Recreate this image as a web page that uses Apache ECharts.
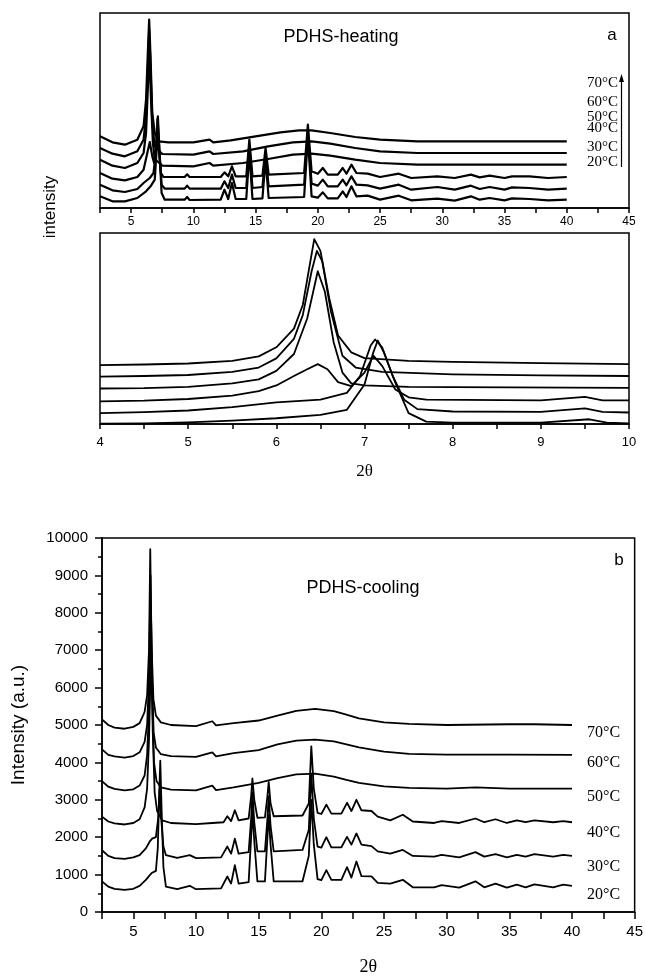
<!DOCTYPE html>
<html>
<head>
<meta charset="utf-8">
<script src="https://cdn.jsdelivr.net/npm/echarts@6/dist/echarts.min.js"></script>
<style>
html,body{margin:0;padding:0;background:#fff;}
#chart{width:646px;height:977px;}
</style>
</head>
<body>
<div id="chart"></div>
<script>
// ---------- labels ----------
var tempLabels = ['20°C', '30°C', '40°C', '50°C', '60°C', '70°C'];
var xTicksWide = [5, 10, 15, 20, 25, 30, 35, 40, 45];
var xTicksZoom = [4, 5, 6, 7, 8, 9, 10];
var yTicksCool = [0, 1000, 2000, 3000, 4000, 5000, 6000, 7000, 8000, 9000, 10000];

// ---------- panel a (heating, full range, arbitrary units) ----------
var heat70 = [[2.5,215],[3.5,197],[4.5,190],[5.5,205],[6.0,245],[6.2,325],[6.35,475],[6.45,565],[6.55,465],[6.7,285],[6.9,225],[7.2,200],[8,197],[10,197],[11.3,205],[11.6,197],[13,203],[15,215],[17,227],[18.5,233],[19.5,233],[21,225],[23,213],[25,205],[28,200],[40,200]];
var heat60 = [[2.5,180],[3.5,163],[4.5,155],[5.5,170],[6.0,205],[6.2,275],[6.35,425],[6.45,535],[6.55,435],[6.7,255],[6.9,185],[7.5,162],[10,160],[11.3,170],[11.6,162],[14,170],[16,185],[18,197],[19.5,200],[21,193],[23,180],[25,170],[28,165],[40,165]];
var heat50 = [[2.5,145],[3.5,127],[4.5,120],[5.5,135],[6.0,165],[6.2,225],[6.35,365],[6.47,475],[6.6,325],[6.75,195],[6.9,147],[7.5,127],[10,125],[11.3,135],[11.6,127],[14,135],[16,147],[18,160],[19.5,163],[21,157],[23,145],[25,135],[28,130],[40,130]];
var heat40 = [[2.5,105],[3.5,88],[4.5,83],[5.5,93],[6.0,115],[6.3,165],[6.5,198],[6.7,155],[6.85,135],[7.0,185],[7.1,225],[7.22,175],[7.4,105],[7.6,93],[9.3,93],[9.5,101],[9.7,93],[12.2,93],[12.5,107],[12.8,95],[13.1,125],[13.4,95],[14.25,95],[14.5,205],[14.75,95],[15.55,97],[15.8,180],[16.05,100],[18.9,105],[19.2,250],[19.5,110],[20.0,103],[20.4,120],[20.8,100],[21.6,100],[22.0,120],[22.3,103],[22.7,130],[23.1,105],[24.0,103],[25.0,93],[26.5,103],[27.5,90],[29.6,95],[31,90],[32.3,100],[33,92],[33.8,97],[35,90],[35.6,95],[37,95],[38.5,90],[40,93]];
var heat30 = [[2.5,70],[3.5,53],[4.5,48],[5.5,57],[6.0,75],[6.5,90],[6.8,105],[7.0,175],[7.12,268],[7.25,185],[7.45,70],[7.7,58],[9.3,58],[9.5,67],[9.7,58],[12.2,58],[12.5,80],[12.8,60],[13.1,100],[13.4,60],[14.25,60],[14.5,185],[14.75,60],[15.55,63],[15.8,160],[16.05,65],[18.9,70],[19.2,230],[19.5,73],[20.0,67],[20.4,85],[20.8,65],[21.6,65],[22.0,85],[22.3,68],[22.7,95],[23.1,70],[24.0,68],[25.0,58],[26.5,70],[27.5,55],[29.6,63],[31,55],[32.3,67],[33,57],[33.8,63],[35,55],[35.6,62],[37,60],[38.5,55],[40,58]];
var heat20 = [[2.5,35],[3.5,20],[4.5,20],[5.5,30],[6.2,50],[6.6,67],[6.9,85],[7.05,175],[7.15,275],[7.3,155],[7.45,45],[7.7,25],[9.3,25],[9.5,33],[9.7,24],[12.2,25],[12.5,55],[12.8,27],[13.1,75],[13.4,27],[14.25,27],[14.5,165],[14.75,27],[15.55,29],[15.8,145],[16.05,30],[18.9,33],[19.2,215],[19.5,35],[20.0,31],[20.4,47],[20.8,29],[21.6,29],[22.0,50],[22.3,33],[22.7,65],[23.1,35],[24.0,37],[25.0,25],[26.5,37],[27.5,23],[29.6,28],[31,22],[32.3,35],[33,25],[33.8,30],[35,23],[35.6,29],[37,27],[38.5,23],[40,25]];

// ---------- panel a (heating, 4-10 deg detail, arbitrary units) ----------
var zoom70 = [[4,174],[4.5,176],[5,179],[5.5,187],[5.8,200],[6.0,227],[6.2,282],[6.3,352],[6.38,472],[6.43,547],[6.5,512],[6.6,372],[6.7,262],[6.85,212],[7.0,195],[7.5,187],[8,184],[9,180],[10,177]];
var zoom60 = [[4,140],[4.5,142],[5,145],[5.5,154],[5.8,167],[6.0,194],[6.2,252],[6.3,322],[6.4,452],[6.46,512],[6.52,482],[6.62,332],[6.75,202],[6.9,167],[7.2,154],[8,147],[9,144],[10,142]];
var zoom50 = [[4,105],[4.5,106],[5,110],[5.5,120],[5.8,132],[6.0,157],[6.2,207],[6.35,312],[6.47,452],[6.55,392],[6.65,242],[6.75,152],[6.85,120],[7.0,114],[7.5,110],[8,109],[10,107]];
var zoom40 = [[4,67],[4.5,69],[5,74],[5.5,84],[5.8,97],[6.0,114],[6.2,142],[6.35,162],[6.47,177],[6.58,162],[6.7,124],[6.85,112],[7.0,152],[7.1,202],[7.2,172],[7.35,102],[7.5,79],[7.7,72],[9,70],[9.5,80],[9.7,70],[10,70]];
var zoom30 = [[4,32],[4.5,35],[5,40],[5.5,50],[6.0,64],[6.5,72],[6.8,92],[6.95,142],[7.07,232],[7.12,250],[7.2,227],[7.32,142],[7.45,72],[7.6,44],[8,37],[9,36],[9.5,46],[9.7,36],[10,34]];
var zoom20 = [[4,1],[4.5,2],[5,5],[5.5,10],[6.0,17],[6.5,27],[6.8,42],[7.0,117],[7.1,212],[7.15,247],[7.22,212],[7.35,122],[7.5,32],[7.7,7],[8,4],[9,4],[9.55,14],[9.75,4],[10,2]];

// ---------- panel b (cooling, intensity a.u.) ----------
var cool70 = [[2.5,5150],[3.0,5000],[3.5,4930],[4.3,4900],[5.0,4950],[5.5,5050],[5.9,5350],[6.1,5800],[6.25,7000],[6.35,9700],[6.45,7200],[6.6,5700],[6.8,5250],[7.2,5070],[8,5000],[10,4970],[11.3,5100],[11.6,4990],[13.0,5050],[15,5120],[16.5,5250],[18,5380],[19.5,5430],[21,5370],[22,5280],[23,5180],[25,5070],[27,5030],[30,5000],[35,5020],[37,5020],[40,5000]];
var cool60 = [[2.5,4350],[3.0,4200],[3.5,4160],[4.3,4130],[5.0,4170],[5.5,4270],[5.9,4550],[6.1,5000],[6.25,6200],[6.37,9000],[6.47,6500],[6.62,4800],[6.8,4400],[7.2,4220],[8,4170],[10,4150],[11.3,4270],[11.6,4160],[13.0,4250],[15,4330],[16.5,4480],[18,4580],[19.5,4610],[21,4560],[22,4480],[23,4400],[25,4290],[27,4230],[30,4210],[35,4210],[40,4200]];
var cool50 = [[2.5,3500],[3.0,3350],[3.5,3290],[4.3,3250],[5.0,3280],[5.5,3380],[5.9,3650],[6.1,4200],[6.25,5400],[6.4,8200],[6.52,5600],[6.65,4000],[6.85,3500],[7.2,3330],[8,3270],[10,3250],[11.3,3380],[11.6,3260],[13.0,3330],[15,3450],[16.5,3580],[18,3680],[19.5,3700],[21,3620],[22,3530],[23,3450],[25,3360],[27,3320],[30,3300],[32.3,3330],[35,3300],[40,3300]];
var cool40 = [[2.5,2550],[3.0,2420],[3.5,2370],[4.3,2340],[5.0,2380],[5.5,2480],[5.9,2800],[6.1,3300],[6.25,4600],[6.42,7000],[6.55,4800],[6.7,3200],[6.9,2700],[7.3,2450],[8,2380],[10,2350],[11.3,2380],[12.2,2400],[12.5,2560],[12.8,2430],[13.1,2720],[13.4,2450],[14.2,2500],[14.4,3100],[14.5,3570],[14.65,3000],[14.9,2520],[15.5,2530],[15.7,3100],[15.8,3480],[15.95,2900],[16.2,2560],[18.5,2580],[19.0,2900],[19.2,4430],[19.4,3300],[19.7,2650],[20.0,2620],[20.4,2870],[20.8,2630],[21.6,2630],[22.05,2920],[22.4,2700],[22.8,3000],[23.2,2720],[24.0,2700],[24.5,2550],[25.5,2450],[26.5,2600],[27.3,2420],[29,2380],[29.6,2430],[31,2380],[32.3,2500],[33,2400],[33.9,2480],[34.8,2380],[35.6,2450],[36.3,2400],[37,2450],[38.5,2400],[39.3,2430],[40,2400]];
var cool30 = [[2.5,1650],[3.0,1500],[3.5,1440],[4.3,1420],[5.0,1460],[5.5,1520],[6.0,1700],[6.3,1880],[6.5,1960],[6.8,2000],[6.98,2500],[7.1,3300],[7.22,2500],[7.4,1750],[7.6,1520],[8.5,1450],[9.5,1520],[10,1440],[12,1460],[12.5,1750],[12.8,1560],[13.1,1960],[13.4,1560],[14.2,1600],[14.4,2500],[14.5,3200],[14.65,2400],[14.9,1620],[15.5,1620],[15.7,2500],[15.8,3100],[15.95,2300],[16.2,1620],[18.5,1660],[19.0,2200],[19.2,3700],[19.4,2500],[19.7,1750],[20.0,1720],[20.4,2000],[20.8,1730],[21.6,1730],[22.05,2010],[22.4,1800],[22.8,2100],[23.2,1800],[24.0,1760],[24.5,1620],[25.5,1560],[26.5,1660],[27.3,1500],[29,1480],[29.6,1530],[31,1460],[32.3,1600],[33,1480],[33.9,1550],[34.8,1460],[35.6,1530],[36.3,1480],[37,1550],[38.5,1480],[39.3,1530],[40,1500]];
var cool20 = [[2.5,820],[3.0,680],[3.5,620],[4.3,590],[5.0,620],[5.5,700],[6.0,860],[6.3,980],[6.5,1050],[6.8,1100],[6.95,1700],[7.08,3300],[7.15,4050],[7.25,2800],[7.4,1200],[7.6,680],[8.5,610],[9.5,700],[10,610],[12,630],[12.5,950],[12.8,760],[13.1,1250],[13.4,760],[14.2,800],[14.4,2000],[14.5,2700],[14.65,1900],[14.9,820],[15.5,820],[15.7,2000],[15.8,2600],[15.95,1800],[16.2,820],[18.5,820],[19.0,1500],[19.2,3000],[19.4,1800],[19.7,880],[20.0,850],[20.4,1120],[20.8,860],[21.6,860],[22.05,1200],[22.4,920],[22.8,1350],[23.2,960],[24.0,950],[24.5,780],[25.5,760],[26.5,860],[27.3,660],[29,660],[29.6,720],[31,650],[32.3,820],[33,660],[33.9,760],[34.8,650],[35.6,730],[36.3,660],[37,740],[38.5,660],[39.3,730],[40,700]];

// ---------- build ----------
var SANS = '"Liberation Sans", Arial, sans-serif';
var SERIF = '"Liberation Serif", "Times New Roman", serif';
var chart = echarts.init(document.getElementById('chart'), null, {renderer: 'canvas'});

function lineSeries(data, gi, w) {
  return {
    type: 'line', data: data, xAxisIndex: gi, yAxisIndex: gi,
    showSymbol: false, symbol: 'none', smooth: false, silent: true,
    lineStyle: {color: '#000', width: w, join: 'round'}, z: 3
  };
}
function xAxisBase(gi, min, max, interval, ticks, fontSize, margin) {
  return {
    type: 'value', gridIndex: gi, min: min, max: max, interval: interval,
    axisLine: {show: true, onZero: false, lineStyle: {color: '#000', width: 1.5}},
    axisTick: {show: true, inside: false, length: 5, lineStyle: {color: '#000', width: 1.5}},
    splitLine: {show: false},
    axisLabel: {
      color: '#000', fontFamily: SANS, fontSize: fontSize, margin: margin,
      showMinLabel: true, showMaxLabel: true, hideOverlap: false,
      formatter: function (v) { return ticks.indexOf(Math.round(v * 100) / 100) >= 0 ? String(Math.round(v * 100) / 100) : ''; }
    }
  };
}

var xa0 = xAxisBase(0, 2.5, 45, 2.5, xTicksWide, 12, 8);
var xa1 = xAxisBase(1, 4, 10, 0.5, xTicksZoom, 13, 12);
xa1.name = '2θ'; xa1.nameLocation = 'middle'; xa1.nameGap = 39;
xa1.nameTextStyle = {fontFamily: SERIF, fontSize: 17, color: '#000'};
var xa2 = xAxisBase(2, 2.5, 45, 2.5, xTicksWide, 15, 12);
xa2.axisTick.length = 7;
xa2.name = '2θ'; xa2.nameLocation = 'middle'; xa2.nameGap = 46;
xa2.nameTextStyle = {fontFamily: SERIF, fontSize: 18, color: '#000'};

var gridStyle = {show: true, borderColor: '#000', borderWidth: 1.5, backgroundColor: 'transparent', containLabel: false};

var option = {
  animation: false,
  backgroundColor: '#fff',
  grid: [
    Object.assign({left: 100, right: 17, top: 13, height: 195}, gridStyle),
    Object.assign({left: 100, right: 17, top: 233, height: 191}, gridStyle),
    Object.assign({left: 102, right: 8, top: 538, height: 385}, gridStyle)
  ],
  xAxis: [xa0, xa1, xa2],
  yAxis: [
    {type: 'value', gridIndex: 0, min: 0, max: 585, show: false},
    {type: 'value', gridIndex: 1, min: 0, max: 565, show: false},
    {
      type: 'value', gridIndex: 2, min: 0, max: 10000, interval: 1000,
      axisLine: {show: true, lineStyle: {color: '#000', width: 1.5}},
      axisTick: {show: true, inside: false, length: 7, lineStyle: {color: '#000', width: 1.5}},
      minorTick: {show: true, splitNumber: 2, length: 4, lineStyle: {color: '#000', width: 1.5}},
      splitLine: {show: false},
      axisLabel: {color: '#000', fontFamily: SANS, fontSize: 15, margin: 14,
        formatter: function (v) { return yTicksCool.indexOf(v) >= 0 ? String(v) : ''; }},
      name: 'Intensity (a.u.)', nameLocation: 'middle', nameGap: 74, nameRotate: 90,
      nameTextStyle: {fontFamily: SANS, fontSize: 19, color: '#000'}
    }
  ],
  series: [
    lineSeries(heat20, 0, 2.2), lineSeries(heat30, 0, 2.2), lineSeries(heat40, 0, 2.2),
    lineSeries(heat50, 0, 2.2), lineSeries(heat60, 0, 2.2), lineSeries(heat70, 0, 2.2),
    lineSeries(zoom20, 1, 1.8), lineSeries(zoom30, 1, 1.8), lineSeries(zoom40, 1, 1.8),
    lineSeries(zoom50, 1, 1.8), lineSeries(zoom60, 1, 1.8), lineSeries(zoom70, 1, 1.8),
    lineSeries(cool20, 2, 1.8), lineSeries(cool30, 2, 1.8), lineSeries(cool40, 2, 1.8),
    lineSeries(cool50, 2, 1.8), lineSeries(cool60, 2, 1.8), lineSeries(cool70, 2, 1.8)
  ],
  graphic: []
};

var g = option.graphic;
function txt(x, y, s, font, size, align, rot) {
  g.push({type: 'text', x: x, y: y, rotation: rot || 0, silent: true, z: 10,
    style: {text: s, fontFamily: font, fontSize: size, fill: '#000', align: align || 'center', verticalAlign: 'middle'}});
}
txt(341, 37, 'PDHS-heating', SANS, 18);
txt(612, 35, 'a', SANS, 17);
txt(50, 207, 'intensity', SANS, 17, 'center', Math.PI / 2);
txt(363, 588, 'PDHS-cooling', SANS, 18);
txt(619, 560, 'b', SANS, 17);

// heating legend stack with arrow
var heatLabelY = [162, 147, 128, 117, 102, 83];
for (var i = 0; i < tempLabels.length; i++) txt(618, heatLabelY[i], tempLabels[i], SERIF, 15, 'right');
g.push({type: 'line', silent: true, z: 10, shape: {x1: 621.5, y1: 167, x2: 621.5, y2: 80}, style: {stroke: '#000', lineWidth: 1.2}});
g.push({type: 'polygon', silent: true, z: 10, shape: {points: [[621.5, 74], [619, 82], [624, 82]]}, style: {fill: '#000'}});

// cooling labels
var coolLabelY = [895, 867, 833, 797, 763, 733];
for (var j = 0; j < tempLabels.length; j++) txt(587, coolLabelY[j], tempLabels[j], SERIF, 16, 'left');

chart.setOption(option);
</script>
</body>
</html>
